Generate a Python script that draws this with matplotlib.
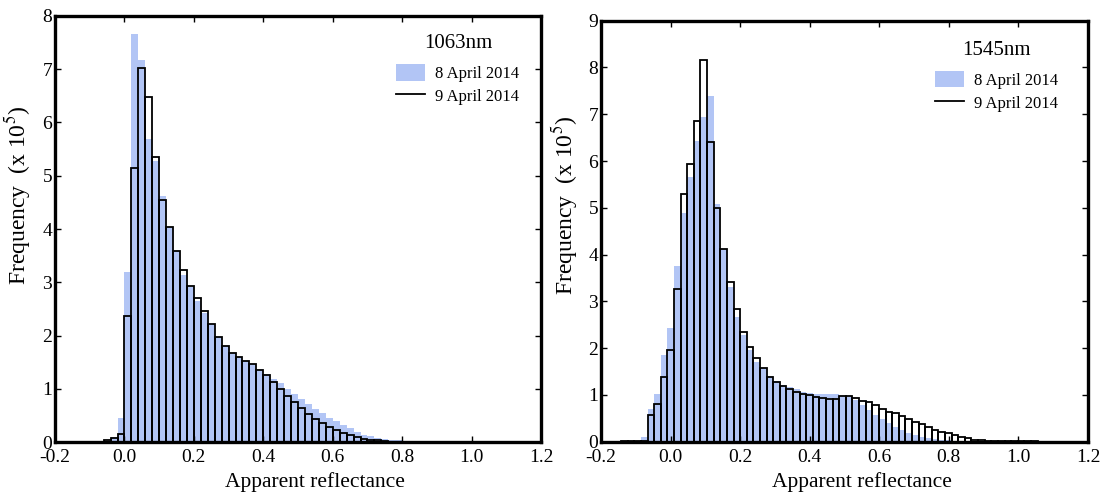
import numpy as np
import matplotlib
matplotlib.use("Agg")
import matplotlib.pyplot as plt
from matplotlib.patches import Patch
from matplotlib.lines import Line2D

plt.rcParams["font.family"] = ["Liberation Serif", "DejaVu Serif"]
plt.rcParams["mathtext.fontset"] = "stix"

# ---- 1063 nm histogram (bin width 0.02, first bin at -0.06) ----
bins_1063_start = -0.06
bins_1063_width = 0.02
apr8_1063 = [0.02, 0.10, 0.45,
             3.20, 7.67, 7.18, 5.69, 5.28, 4.62, 4.04, 3.59, 3.14, 2.92,
             2.64, 2.42, 2.22, 1.98, 1.80, 1.68, 1.60, 1.53, 1.47, 1.37,
             1.28, 1.19, 1.10, 1.00, 0.91, 0.81, 0.71, 0.62, 0.54, 0.46,
             0.39, 0.32, 0.26, 0.19, 0.14, 0.11, 0.08, 0.06, 0.04, 0.03,
             0.02, 0.01]
apr9_1063 = [0.03, 0.07, 0.15,
             2.37, 5.14, 7.02, 6.47, 5.36, 4.54, 4.04, 3.59, 3.23, 2.93,
             2.71, 2.46, 2.22, 1.98, 1.80, 1.68, 1.60, 1.53, 1.46, 1.35,
             1.26, 1.13, 1.00, 0.87, 0.75, 0.64, 0.53, 0.44, 0.35, 0.29,
             0.22, 0.17, 0.13, 0.09, 0.06, 0.04, 0.03, 0.02]

# ---- 1545 nm histogram (bin width 0.019, first bin at -0.142) ----
bins_1545_start = -0.142
bins_1545_width = 0.019
apr8_1545 = [0.0, 0.0, 0.02, 0.11,
             0.71, 1.02, 1.85, 2.44, 3.75, 4.89, 5.66, 6.43, 6.95, 7.38,
             5.09, 4.13, 3.31, 2.67, 2.28, 1.96, 1.71, 1.57, 1.40, 1.29,
             1.21, 1.16, 1.12, 1.06, 1.04, 1.02, 1.02, 1.02, 1.01, 0.98,
             0.95, 0.89, 0.78, 0.68, 0.57, 0.48, 0.39, 0.32, 0.25, 0.19,
             0.14, 0.11, 0.08, 0.06, 0.04, 0.03, 0.02, 0.01, 0.01]
apr9_1545 = [0.015, 0.015, 0.015, 0.02,
              0.57, 0.80, 1.39, 1.97, 3.26, 5.29, 5.93, 6.85, 8.15, 6.40,
              4.99, 4.11, 3.42, 2.84, 2.34, 2.03, 1.78, 1.57, 1.39, 1.28,
              1.20, 1.12, 1.07, 1.02, 1.00, 0.96, 0.93, 0.92, 0.92, 0.97,
              0.97, 0.93, 0.88, 0.84, 0.78, 0.70, 0.64, 0.61, 0.55, 0.49,
              0.43, 0.37, 0.32, 0.26, 0.21, 0.18, 0.14, 0.11, 0.07, 0.04,
              0.03, 0.02, 0.015, 0.01, 0.01, 0.01, 0.01, 0.01, 0.01]

x_ticks = [-0.2, 0.0, 0.2, 0.4, 0.6, 0.8, 1.0, 1.2]
labels = ["8 April 2014", "9 April 2014"]
blue = "#b2c5f5"

fig = plt.figure(figsize=(11.05, 4.92), dpi=100)
ax1 = fig.add_axes([0.0498, 0.1016, 0.4398, 0.8659])
ax2 = fig.add_axes([0.5439, 0.1022, 0.4407, 0.8557])


def draw(ax, start, width, fill_vals, line_vals, ymax, title, anchor,
         xlab_pos, ylab_pos):
    lefts_a = start + width * np.arange(len(fill_vals))
    lefts_b = start + width * np.arange(len(line_vals))
    ax.bar(lefts_a, fill_vals, width=width, align="edge", color=blue,
           edgecolor="none", zorder=1)
    ax.bar(lefts_b, line_vals, width=width, align="edge", fill=False,
           edgecolor="black", linewidth=1.3, zorder=2)
    ax.set_xlim(-0.2, 1.2)
    ax.set_ylim(0, ymax)
    ax.set_xticks(x_ticks)
    ax.set_xticklabels([f"{t:.1f}" for t in x_ticks])
    ax.set_yticks(range(0, ymax + 1))
    ax.tick_params(direction="in", top=True, right=True, length=4,
                   width=1.0, labelsize=14)
    ax.tick_params(axis="x", pad=5)
    ax.tick_params(axis="y", pad=2)
    for s in ax.spines.values():
        s.set_linewidth(2.4)
    ax.set_xlabel("Apparent reflectance", fontsize=15.5)
    ax.set_ylabel("Frequency  (x 10$^{5}$)", fontsize=17)
    ax.xaxis.set_label_coords(*xlab_pos)
    ax.yaxis.set_label_coords(*ylab_pos)
    handles = [Patch(facecolor=blue, edgecolor="none"),
               Line2D([0], [0], color="black", linewidth=1.3)]
    leg = ax.legend(handles, labels, title=title, loc="upper left",
                    bbox_to_anchor=anchor, frameon=False, fontsize=12,
                    title_fontsize=15, handlelength=1.75, handleheight=1.15,
                    handletextpad=0.6, labelspacing=0.3, borderpad=0.2)
    leg._legend_box.align = "center"
    leg._legend_box.sep = 8


draw(ax1, bins_1063_start, bins_1063_width, apr8_1063, apr9_1063, 8,
     "1063nm", (0.678, 0.985), (0.535, -0.071), (-0.045, 0.58))
draw(ax2, bins_1545_start, bins_1545_width, apr8_1545, apr9_1545, 9,
     "1545nm", (0.662, 0.98), (0.536, -0.073), (-0.043, 0.562))

fig.savefig("out.png", dpi=100)
